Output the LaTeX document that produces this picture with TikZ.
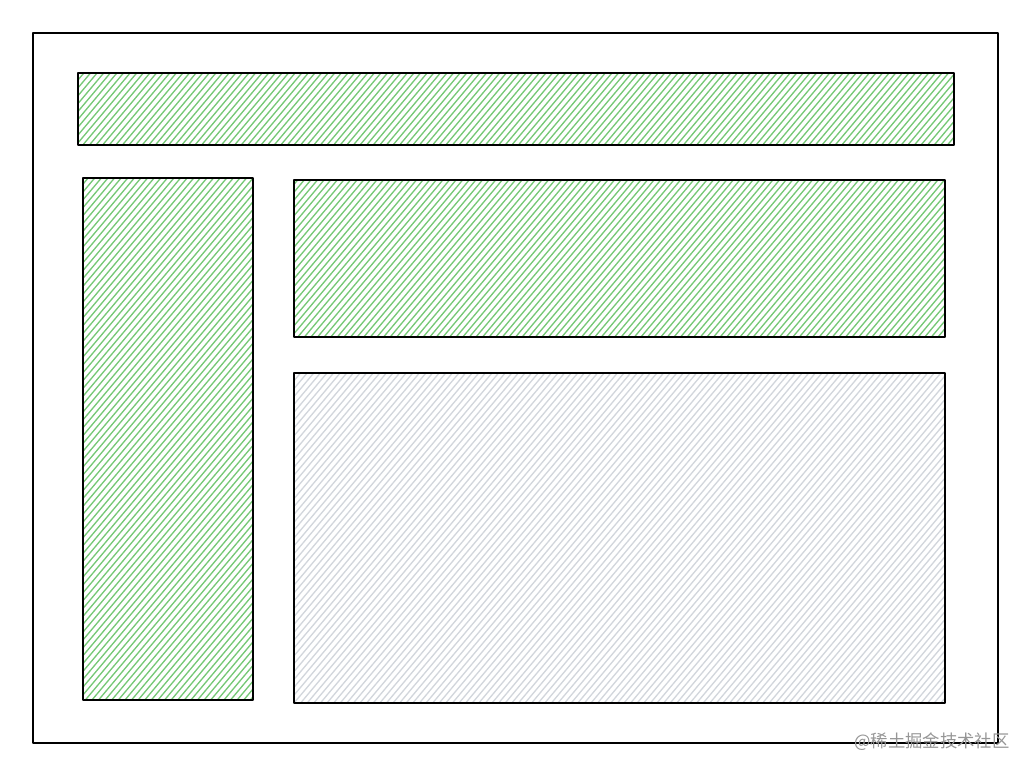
\documentclass[tikz,border=0pt]{standalone}
\usepackage{fontspec}
\newfontfamily\cjkfont{Noto Sans CJK SC}
\usepackage{tikz}
\definecolor{hatchgreen}{RGB}{118,200,118}
\definecolor{hatchgrey}{RGB}{210,214,220}
\definecolor{markgrey}{RGB}{150,150,150}
\tikzstyle{frame}=[draw=black,line width=1.2pt,line join=round]
\tikzstyle{hatchline}=[line width=1pt]
\tikzstyle{watermark}=[font=\cjkfont\fontsize{13pt}{13pt}\selectfont,text=markgrey,inner sep=0pt]

\begin{document}
\begin{tikzpicture}[x=0.75pt,y=-0.75pt]

    \useasboundingbox (0,0) rectangle (1034,774);

    % hatched blocks: left/top/right/bottom/colour
    \foreach \xa/\ya/\xb/\yb/\col/\name in {78/73/954/145/hatchgreen/header,
                                             83/178/253/700/hatchgreen/sidebar,
                                             294/180/945/337/hatchgreen/banner,
                                             294/373/945/703/hatchgrey/content}
    {
        \begin{scope}
            \clip (\xa,\ya) rectangle (\xb,\yb);
            \foreach \s in {0,6.6,...,1700}
                \draw[hatchline, \col] (\s-650,774) -- (\s,0);
        \end{scope}
        \coordinate (\name-nw) at (\xa,\ya);
        \coordinate (\name-se) at (\xb,\yb);
        \draw[frame] (\name-nw) rectangle (\name-se);
    }

    % page outline
    \coordinate (page-nw) at (33,33);
    \coordinate (page-se) at (998,743);
    \draw[frame] (page-nw) rectangle (page-se);

    \node[watermark] (mark) at (932,742) {@稀土掘金技术社区};

\end{tikzpicture}
\end{document}
